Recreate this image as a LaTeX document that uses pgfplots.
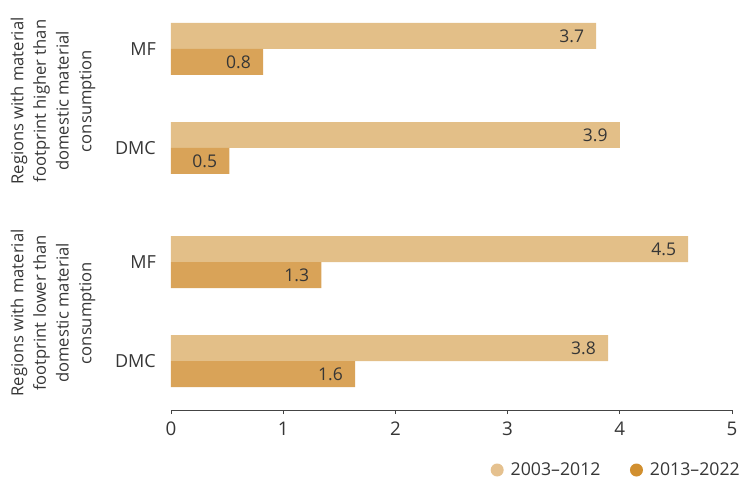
\documentclass[border=0pt]{standalone}
\usepackage{fontspec}
\setmainfont{Open Sans}
\usepackage{pgfplots}
\pgfplotsset{compat=1.18}
\definecolor{clight}{HTML}{E3BF88}
\definecolor{cdark}{HTML}{D9A358}
\definecolor{legdark}{HTML}{D18F2F}
\definecolor{leglight}{HTML}{E5C18F}
\definecolor{txt}{HTML}{363636}
\definecolor{axc}{HTML}{444444}
\begin{document}
\begin{tikzpicture}
\begin{axis}[
  at={(0pt,0pt)}, anchor=south west,
  scale only axis, width=561pt, height=395pt,
  xbar, y dir=reverse,
  xmin=0, xmax=5, ymin=-0.3434, ymax=3.6465,
  enlargelimits=false, clip=false,
  bar width=0.2626,
  axis x line*=bottom, axis y line*=left,
  y axis line style={draw=none},
  x axis line style={draw=axc, line width=0.8pt},
  xtick={0,1,2,3,4,5},
  ytick={0,1,2.152,3.152},
  yticklabels={MF,DMC,MF,DMC},
  tick align=outside,
  major tick length=4pt,
  xtick style={draw=axc, line width=0.8pt},
  ytick style={draw=none},
  /pgf/number format/assume math mode=true,
  xticklabel style={font=\fontsize{18.8}{22}\selectfont, text=txt, inner sep=0pt, yshift=-7.5pt},
  yticklabel style={font=\fontsize{18}{22}\selectfont, text=txt, inner sep=0pt, xshift=-11pt},
  nodes near coords,
  point meta=explicit symbolic,
  nodes near coords style={anchor=east, inner sep=0pt, xshift=-12pt, font=\fontsize{17.5}{20}\selectfont, text=txt},
  legend columns=2,
  legend style={draw=none, fill=none, at={(rel axis cs:1,0)}, anchor=east, xshift=8pt, yshift=-60pt,
    inner sep=0pt, nodes={inner sep=0pt, font=\fontsize{17.7}{20}\selectfont, text=txt},
    /tikz/every odd column/.append style={column sep=0pt},
    /tikz/every even column/.append style={column sep=29.5pt}},
]
\addplot[fill=clight, draw=none, bar shift=-0.1313,
  legend image code/.code={\fill[leglight] (6.5pt,0pt) circle (6.5pt);}]
  coordinates {(3.79,0) [3.7] (4.0,1) [3.9] (4.61,2.152) [4.5] (3.895,3.152) [3.8]};
\addplot[fill=cdark, draw=none, bar shift=0.1313,
  legend image code/.code={\fill[legdark] (6.5pt,0pt) circle (6.5pt);}]
  coordinates {(0.82,0) [0.8] (0.52,1) [0.5] (1.34,2.152) [1.3] (1.64,3.152) [1.6]};
\legend{\hspace{7pt}2003–2012, \hspace{7pt}2013–2022}
\node[rotate=90, align=center, font=\fontsize{16.6}{22.7}\selectfont, text=txt]
  at ([xshift=-118pt]axis cs:0,0.525) {Regions with material\\footprint higher than\\domestic material\\consumption};
\node[rotate=90, align=center, font=\fontsize{16.6}{22.7}\selectfont, text=txt]
  at ([xshift=-118pt]axis cs:0,2.667) {Regions with material\\footprint lower than\\domestic material\\consumption};
\end{axis}
\pgfresetboundingbox
\path[use as bounding box] (-171pt,-69pt) rectangle (570pt,410pt);
\end{tikzpicture}
\end{document}
